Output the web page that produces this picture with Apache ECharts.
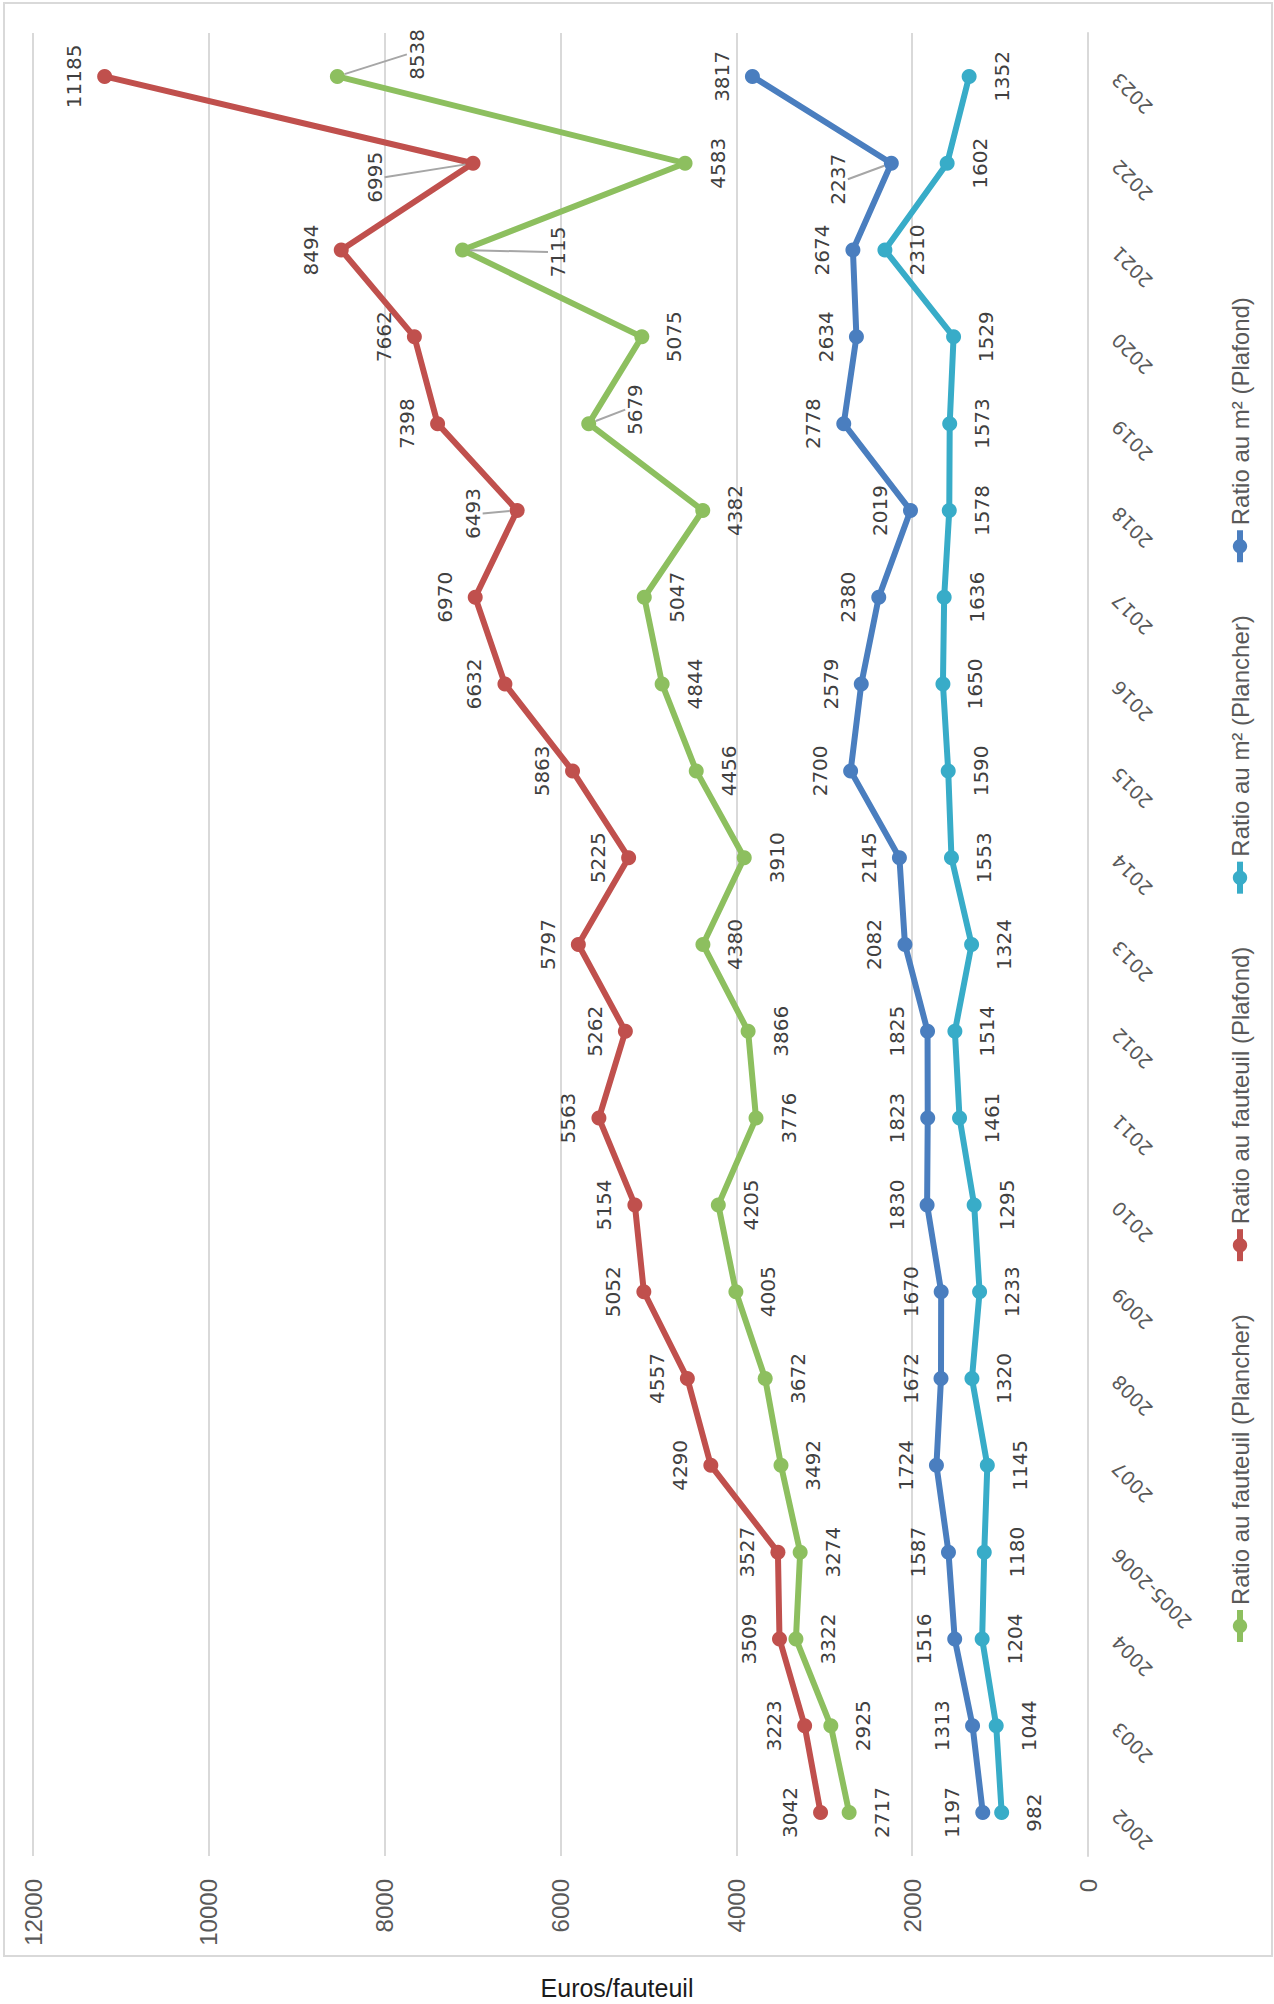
<!DOCTYPE html>
<html>
<head>
<meta charset="utf-8">
<title>Ratios au fauteuil et au m²</title>
<script src="https://cdn.jsdelivr.net/npm/echarts@6/dist/echarts.min.js"></script>
<style>
    html, body { margin: 0; padding: 0; background: #fff; }
    #page { position: relative; width: 1274px; height: 2004px; overflow: hidden; }
    #frame { position: absolute; left: 3px; top: 2px; width: 1270px; height: 1955px; border: 2px solid #d9d9d9; box-sizing: border-box; }
    /* the chart is drawn upright, then turned a quarter turn to the left */
    #chart { position: absolute; left: 0; top: 0; width: 2004px; height: 1274px; transform-origin: 0 0; transform: translateY(2004px) rotate(-90deg); }
    #unit { position: absolute; left: 417px; width: 400px; top: 1972px; line-height: 32px; text-align: center; font-family: "Liberation Sans", Arial, sans-serif; font-size: 25px; color: #1a1a1a; }
</style>
</head>
<body>
<div id="page">
    <div id="frame"></div>
    <div id="chart"></div>
    <div id="unit">Euros/fauteuil</div>
</div>
<script>
var years = ['2002', '2003', '2004', '2005-2006', '2007', '2008', '2009', '2010', '2011', '2012', '2013',
    '2014', '2015', '2016', '2017', '2018', '2019', '2020', '2021', '2022', '2023'];

var fauteuilPlancher = [2717, 2925, 3322, 3274, 3492, 3672, 4005, 4205, 3776, 3866, 4380,
    3910, 4456, 4844, 5047, 4382, 5679, 5075, 7115, 4583, 8538];
var fauteuilPlafond = [3042, 3223, 3509, 3527, 4290, 4557, 5052, 5154, 5563, 5262, 5797,
    5225, 5863, 6632, 6970, 6493, 7398, 7662, 8494, 6995, 11185];
var m2Plancher = [982, 1044, 1204, 1180, 1145, 1320, 1233, 1295, 1461, 1514, 1324,
    1553, 1590, 1650, 1636, 1578, 1573, 1529, 2310, 1602, 1352];
var m2Plafond = [1197, 1313, 1516, 1587, 1724, 1672, 1670, 1830, 1823, 1825, 2082,
    2145, 2700, 2579, 2380, 2019, 2778, 2634, 2674, 2237, 3817];

var valueMin = 0;
var valueMax = 12000;
var valueStep = 2000;

// labels that were dragged away from their point (dx, dy in the upright chart)
var labelNudges = {
    'Ratio au fauteuil (Plancher)': { 20: [22, 47], 18: [-2, 63], 16: [14, 14] },
    'Ratio au fauteuil (Plafond)': { 19: [-14, -68], 15: [-3, -14] },
    'Ratio au m² (Plafond)': { 19: [-16, -23] }
};

var makeSeries = function (name, values, color, labelPos, distance) {
    var nudges = labelNudges[name] || {};
    return {
        name: name,
        type: 'line',
        data: values.map(function (v, i) {
            return nudges[i] ? { value: v, labelLine: { show: true } } : v;
        }),
        symbol: 'circle',
        symbolSize: 15,
        lineStyle: { width: 6, color: color },
        itemStyle: { color: color },
        label: {
            show: true,
            position: labelPos,
            distance: distance,
            fontFamily: 'DejaVu Sans',
            fontSize: 20,
            color: '#404040'
        },
        labelLine: { show: false, lineStyle: { color: '#a6a6a6', width: 2 } },
        labelLayout: function (p) {
            var d = nudges[p.dataIndex];
            return d ? { dx: d[0], dy: d[1] } : {};
        },
        emphasis: { disabled: true }
    };
};

var myChart = echarts.init(document.getElementById('chart'), null, { renderer: 'svg' });
var option = {
    animation: false,
    grid: { left: 148, right: 33, top: 33, bottom: 186 },
    legend: {
        data: ['Ratio au fauteuil (Plancher)', 'Ratio au fauteuil (Plafond)', 'Ratio au m² (Plancher)', 'Ratio au m² (Plafond)'],
        left: 354,
        top: 1223,
        itemWidth: 32,
        itemHeight: 18,
        itemGap: 50,
        lineStyle: { width: 6 },
        textStyle: { fontFamily: 'Liberation Sans', fontSize: 24, color: '#595959' }
    },
    xAxis: {
        type: 'category',
        data: years,
        boundaryGap: true,
        axisLine: { lineStyle: { color: '#d9d9d9', width: 2 } },
        axisTick: { show: false },
        axisLabel: {
            interval: 0,
            rotate: 45,
            margin: 27,
            fontFamily: 'DejaVu Sans',
            fontSize: 19,
            color: '#595959'
        }
    },
    yAxis: {
        type: 'value',
        min: valueMin,
        max: valueMax,
        interval: valueStep,
        axisLine: { show: false },
        axisTick: { show: false },
        splitLine: { lineStyle: { color: '#d9d9d9', width: 2 } },
        axisLabel: {
            margin: 23,
            formatter: function (v) { return String(v); },
            fontFamily: 'Liberation Sans',
            fontSize: 24,
            color: '#595959'
        }
    },
    series: [
        makeSeries('Ratio au fauteuil (Plancher)', fauteuilPlancher, '#8dbf5f', 'bottom', 15),
        makeSeries('Ratio au fauteuil (Plafond)', fauteuilPlafond, '#c0504d', 'top', 13),
        makeSeries('Ratio au m² (Plancher)', m2Plancher, '#38acc8', 'bottom', 15),
        makeSeries('Ratio au m² (Plafond)', m2Plafond, '#4a7ebf', 'top', 13)
    ]
};
option && myChart.setOption(option);
</script>
</body>
</html>
